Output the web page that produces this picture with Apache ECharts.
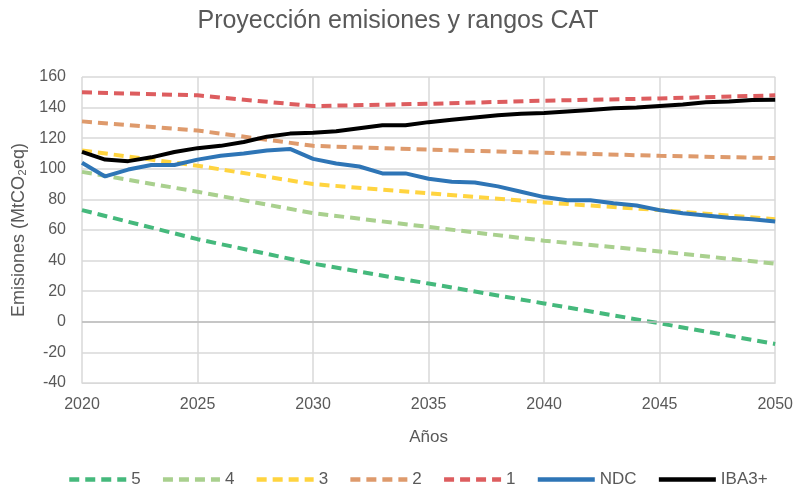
<!DOCTYPE html>
<html>
<head>
<meta charset="utf-8">
<script src="https://cdn.jsdelivr.net/npm/echarts@6/dist/echarts.min.js"></script>
<style>
  html, body { margin: 0; padding: 0; background: #fff; }
  #chart { width: 796px; height: 485px; }
</style>
</head>
<body>
<div id="chart"></div>
<script>
// annual years for the NDC and IBA3+ trajectories
const years = [2020, 2021, 2022, 2023, 2024, 2025, 2026, 2027, 2028, 2029, 2030,
  2031, 2032, 2033, 2034, 2035, 2036, 2037, 2038, 2039, 2040,
  2041, 2042, 2043, 2044, 2045, 2046, 2047, 2048, 2049, 2050]
// CAT ranges read every 5 years
const yearsCat = [2020, 2025, 2030, 2035, 2040, 2045, 2050]

const cat5 = [73, 54, 38, 25, 12, -1, -14.5]
const cat4 = [98, 85, 71, 62, 53, 46, 38]
const cat3 = [112, 102, 90, 84, 78, 73, 67]
const cat2 = [131, 125, 115, 112.5, 110.5, 108.5, 107]
const cat1 = [150, 148, 141, 142.5, 144.5, 146, 148]

const ndc = [104, 95, 99.5, 102.5, 102.5, 106, 108.5, 110, 112, 113, 106.5,
  103.5, 101.5, 97, 97, 93.5, 91.5, 91, 88.5, 85, 81.5,
  79.5, 79.5, 77.5, 76, 73, 71, 69.5, 68, 67, 65.5]
const iba3 = [111, 106, 105, 107.5, 111, 113.5, 115, 117.5, 121, 123, 123.5,
  124.5, 126.5, 128.5, 128.5, 130.5, 132, 133.5, 135, 136, 136.5,
  137.5, 138.5, 139.5, 140, 141, 142, 143.5, 144, 145, 145.2]

const yTicks = { min: -40, max: 160, step: 20 }
const xTicks = { min: 2020, max: 2050, step: 5 }

const pairs = (xs, vs) => xs.map((x, i) => [x, vs[i]])

const dashed = (name, xs, vs, color) => ({
  name, type: 'line', data: pairs(xs, vs), showSymbol: false, symbol: 'none',
  lineStyle: { color, width: 4, type: [10, 6] }, itemStyle: { color }
})
const solid = (name, xs, vs, color) => ({
  name, type: 'line', data: pairs(xs, vs), showSymbol: false, symbol: 'none',
  lineStyle: { color, width: 4 }, itemStyle: { color }
})

const chart = echarts.init(document.getElementById('chart'))
const font = '"Liberation Sans", Arial, sans-serif'
const series = [
  dashed('5', yearsCat, cat5, '#45B97C'),
  dashed('4', yearsCat, cat4, '#A9D08E'),
  dashed('3', yearsCat, cat3, '#FFD43F'),
  dashed('2', yearsCat, cat2, '#DE9A6C'),
  dashed('1', yearsCat, cat1, '#DD5D5F'),
  solid('NDC', years, ndc, '#2E75B6'),
  solid('IBA3+', years, iba3, '#000000')
]
// slightly darker zero line
series[0].markLine = {
  silent: true, symbol: 'none', label: { show: false },
  lineStyle: { color: '#BDBDBD', width: 1.5, type: 'solid' },
  data: [{ yAxis: 0 }]
}

chart.setOption({
  animation: false,
  textStyle: { fontFamily: font },
  title: {
    text: 'Proyección emisiones y rangos CAT',
    left: 'center', top: 4,
    textStyle: { fontSize: 25, fontWeight: 'normal', color: '#595959', fontFamily: font }
  },
  grid: { left: 82, right: 20, top: 77, bottom: 102 },
  legend: {
    top: 466, left: 62, itemWidth: 57, itemHeight: 12, itemGap: 20,
    itemStyle: { opacity: 0 },
    lineStyle: { width: 4.5 },
    textStyle: { fontSize: 17, color: '#595959' },
    data: ['5', '4', '3', '2', '1', 'NDC', 'IBA3+']
  },
  xAxis: {
    type: 'value', min: xTicks.min, max: xTicks.max, interval: xTicks.step,
    name: 'Años', nameLocation: 'middle', nameGap: 46,
    nameTextStyle: { fontSize: 17, color: '#595959' },
    axisLine: { show: true, onZero: false, lineStyle: { color: '#D9D9D9' } },
    axisTick: { show: false },
    axisLabel: { fontSize: 16, color: '#595959', margin: 14, formatter: v => String(v) },
    splitLine: { show: true, lineStyle: { color: '#D9D9D9', width: 1.5 } }
  },
  yAxis: {
    type: 'value', min: yTicks.min, max: yTicks.max, interval: yTicks.step,
    name: 'Emisiones (MtCO₂eq)', nameLocation: 'middle', nameGap: 52,
    nameTextStyle: { fontSize: 18, color: '#595959' },
    axisLine: { show: false },
    axisTick: { show: false },
    axisLabel: { fontSize: 16, color: '#595959', margin: 16 },
    splitLine: { show: true, lineStyle: { color: '#D9D9D9', width: 1.5 } }
  },
  series
})
</script>
</body>
</html>
